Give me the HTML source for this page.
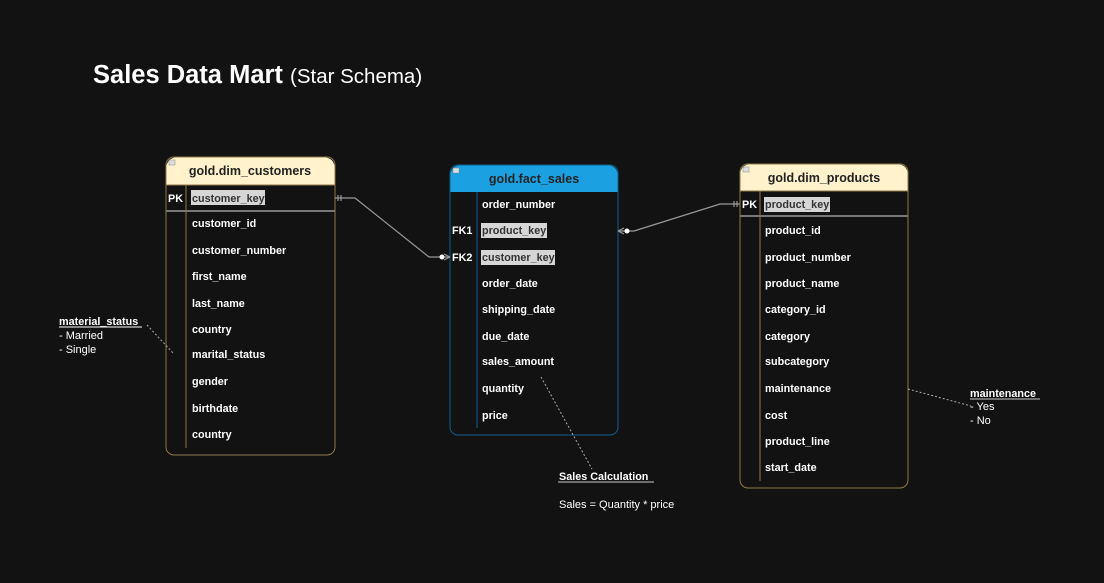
<!DOCTYPE html>
<html><head><meta charset="utf-8"><style>
html,body{margin:0;padding:0;background:#121212;}
svg{display:block;font-family:"Liberation Sans",Arial,sans-serif;}
.t{fill:#fff;font-size:10.8px;font-weight:bold;}
.h{fill:#222;font-size:12.5px;font-weight:bold;}
.k{fill:#333;font-size:10.8px;font-weight:bold;}
.n{fill:#fff;font-size:11px;}
</style></head><body>
<svg width="1104" height="583" viewBox="0 0 1104 583">
<rect width="1104" height="583" fill="#121212"/>
<text x="93" y="83" fill="#fff" font-size="25.5" font-weight="bold">Sales Data Mart <tspan font-size="20.5" font-weight="normal">(Star Schema)</tspan></text>

<!-- customers -->
<path d="M166,185 V170 Q166,157 179,157 H322 Q335,157 335,170 V185 Z" fill="#fff2cc"/>
<rect x="166" y="157" width="169" height="298" rx="8" fill="none" stroke="#8c7a48" stroke-width="1"/>
<line x1="166" y1="185" x2="335" y2="185" stroke="#8c7a48"/>
<line x1="166" y1="211" x2="335" y2="211" stroke="#777" stroke-width="2"/>
<line x1="186" y1="185" x2="186" y2="448" stroke="#8c7a48"/>
<rect x="169" y="160" width="6" height="5" fill="#ddd" stroke="#888" stroke-width="0.5"/>
<text class="h" x="250" y="175" text-anchor="middle">gold.dim_customers</text>
<text class="t" x="168" y="202">PK</text>
<rect x="191" y="190" width="74" height="15" fill="#d6d6d6"/>
<text class="k" x="192" y="202">customer_key</text>
<text class="t" x="192" y="227">customer_id</text>
<text class="t" x="192" y="254">customer_number</text>
<text class="t" x="192" y="280">first_name</text>
<text class="t" x="192" y="307">last_name</text>
<text class="t" x="192" y="333">country</text>
<text class="t" x="192" y="358">marital_status</text>
<text class="t" x="192" y="385">gender</text>
<text class="t" x="192" y="412">birthdate</text>
<text class="t" x="192" y="438">country</text>

<!-- fact -->
<path d="M450,192 V177 Q450,165 462,165 H606 Q618,165 618,177 V192 Z" fill="#1ba1e2"/>
<rect x="450" y="165" width="168" height="270" rx="8" fill="none" stroke="#0e5e8e" stroke-width="1"/>
<line x1="477" y1="192" x2="477" y2="428" stroke="#0e5e8e"/>
<rect x="453" y="168" width="6" height="5" fill="#ddd" stroke="#888" stroke-width="0.5"/>
<text class="h" x="534" y="183" text-anchor="middle">gold.fact_sales</text>
<text class="t" x="482" y="208">order_number</text>
<text class="t" x="452" y="234">FK1</text>
<rect x="481" y="223" width="66" height="15" fill="#d6d6d6"/>
<text class="k" x="482" y="234">product_key</text>
<text class="t" x="452" y="261">FK2</text>
<rect x="481" y="250" width="74" height="15" fill="#d6d6d6"/>
<text class="k" x="482" y="261">customer_key</text>
<text class="t" x="482" y="287">order_date</text>
<text class="t" x="482" y="313">shipping_date</text>
<text class="t" x="482" y="340">due_date</text>
<text class="t" x="482" y="365">sales_amount</text>
<text class="t" x="482" y="392">quantity</text>
<text class="t" x="482" y="419">price</text>

<!-- products -->
<path d="M740,191 V176 Q740,164 752,164 H896 Q908,164 908,176 V191 Z" fill="#fff2cc"/>
<rect x="740" y="164" width="168" height="324" rx="8" fill="none" stroke="#8c7a48" stroke-width="1"/>
<line x1="740" y1="191" x2="908" y2="191" stroke="#8c7a48"/>
<line x1="740" y1="216" x2="908" y2="216" stroke="#777" stroke-width="2"/>
<line x1="760" y1="191" x2="760" y2="481" stroke="#8c7a48"/>
<rect x="743" y="167" width="6" height="5" fill="#ddd" stroke="#888" stroke-width="0.5"/>
<text class="h" x="824" y="182" text-anchor="middle">gold.dim_products</text>
<text class="t" x="742" y="208">PK</text>
<rect x="764" y="197" width="66" height="15" fill="#d6d6d6"/>
<text class="k" x="765" y="208">product_key</text>
<text class="t" x="765" y="234">product_id</text>
<text class="t" x="765" y="261">product_number</text>
<text class="t" x="765" y="287">product_name</text>
<text class="t" x="765" y="313">category_id</text>
<text class="t" x="765" y="340">category</text>
<text class="t" x="765" y="365">subcategory</text>
<text class="t" x="765" y="392">maintenance</text>
<text class="t" x="765" y="419">cost</text>
<text class="t" x="765" y="445">product_line</text>
<text class="t" x="765" y="471">start_date</text>

<!-- connectors -->
<g stroke="#999" stroke-width="1.2" fill="none">
<polyline points="335,198 355,198 429,257 450,257"/>
<line x1="338" y1="195" x2="338" y2="201"/><line x1="341" y1="195" x2="341" y2="201"/>
<line x1="450" y1="257" x2="444" y2="254"/><line x1="450" y1="257" x2="444" y2="260"/>
<polyline points="618,231 634,231 720,204 740,204"/>
<line x1="734" y1="201" x2="734" y2="207"/><line x1="737" y1="201" x2="737" y2="207"/>
<line x1="618" y1="231" x2="624" y2="228"/><line x1="618" y1="231" x2="624" y2="234"/>
</g>
<circle cx="442" cy="257" r="2.5" fill="#fff"/>
<circle cx="627" cy="231" r="2.5" fill="#fff"/>

<!-- notes -->
<g stroke="#aaa" stroke-width="1" stroke-dasharray="2,2" fill="none">
<line x1="147" y1="325" x2="173" y2="353"/>
<line x1="541" y1="377" x2="592" y2="469"/>
<line x1="908" y1="389" x2="971" y2="406"/>
</g>
<text class="t" x="59" y="325">material_status</text>
<line x1="59" y1="327" x2="142" y2="327" stroke="#fff"/>
<text class="n" x="59" y="339">- Married</text>
<text class="n" x="59" y="353">- Single</text>
<text class="t" x="559" y="480">Sales Calculation</text>
<line x1="558" y1="482" x2="654" y2="482" stroke="#ccc"/>
<text class="n" x="559" y="508">Sales = Quantity * price</text>
<text class="t" x="970" y="397">maintenance</text>
<line x1="970" y1="399" x2="1040" y2="399" stroke="#ccc"/>
<text class="n" x="970" y="410">- Yes</text>
<text class="n" x="970" y="424">-  No</text>
</svg>
</body></html>
